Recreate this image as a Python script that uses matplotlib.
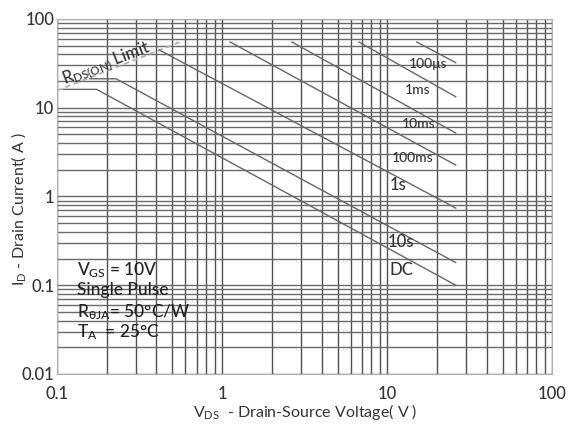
import matplotlib
matplotlib.use("Agg")
import matplotlib.pyplot as plt
from matplotlib.ticker import FixedLocator, LogLocator, NullFormatter

plt.rcParams["font.family"] = ["Lato", "DejaVu Sans"]
plt.rcParams["font.weight"] = "medium"
plt.rcParams["mathtext.default"] = "regular"

# safe operating area (V, A)
rds_v = [0.1, 0.556]
rds_i = [15.6, 55]

dc_v = [0.109, 0.174, 26]
dc_i = [16.1, 16.1, 0.1]
s10_v = [0.158, 0.228, 26]
s10_i = [21.2, 21.2, 0.18]
s1_v = [0.417, 26]
s1_i = [44.7, 0.74]
ms100_v = [1.12, 26]
ms100_i = [55, 2.26]
ms10_v = [2.65, 26]
ms10_i = [55, 5.19]
ms1_v = [6.75, 26]
ms1_i = [55, 13.3]
us100_v = [15.1, 26]
us100_i = [55, 32.2]

curve_names = ["100\u03bcs", "1ms", "10ms", "100ms", "1s", "10s", "DC"]
curve_sizes = [10, 10, 10, 10, 12, 12, 12]
# label anchors in axes fraction (left edge, vertical centre)
label_x = [0.711, 0.703, 0.697, 0.676, 0.672, 0.668, 0.672]
label_y = [0.873, 0.800, 0.704, 0.608, 0.532, 0.372, 0.293]

x_ticks = [0.1, 1, 10, 100]
x_tick_labels = ["0.1", "1", "10", "100"]
y_ticks = [0.01, 0.1, 1, 10, 100]
y_tick_labels = ["0.01", "0.1", "1", "10", "100"]

conditions = [
    "V$_{GS}$ = 10V",
    "Single Pulse",
    "R$_{\u03b8JA}$= 50\u00b0C/W",
    "T$_{A}$  = 25\u00b0C",
]
cond_y = [0.293, 0.237, 0.175, 0.118]

fig = plt.figure(figsize=(5.71, 4.26), dpi=100)
ax = fig.add_axes([0.0998, 0.1221, 0.8675, 0.8333])
ax.set_xscale("log")
ax.set_yscale("log")
ax.set_xlim(0.1, 100)
ax.set_ylim(0.01, 100)

# dense datasheet grid
ax.xaxis.set_minor_locator(LogLocator(base=10, subs=range(2, 10)))
ax.yaxis.set_minor_locator(LogLocator(base=10, subs=range(2, 10)))
ax.xaxis.set_minor_formatter(NullFormatter())
ax.yaxis.set_minor_formatter(NullFormatter())
ax.grid(True, which="both", axis="x", color="#505050", lw=1.0)
ax.grid(True, which="both", axis="y", color="#6a6a6a", lw=1.0)
ax.set_axisbelow(True)

line_kw = dict(color="#666666", lw=1.0)
ax.plot(rds_v, rds_i, color="#b0b0b0", lw=1.3, dashes=(3, 2))
for v, i in [(dc_v, dc_i), (s10_v, s10_i), (s1_v, s1_i), (ms100_v, ms100_i),
             (ms10_v, ms10_i), (ms1_v, ms1_i), (us100_v, us100_i)]:
    ax.plot(v, i, **line_kw)

for name, size, lx, ly in zip(curve_names, curve_sizes, label_x, label_y):
    ax.text(lx, ly, name, transform=ax.transAxes, fontsize=size,
            ha="left", va="center", color="#333333")

ax.text(0.100, 0.872, "R$_{DS(ON)}$ Limit", transform=ax.transAxes, fontsize=12,
        rotation=21, ha="center", va="center", color="#333333")

for txt, cy in zip(conditions, cond_y):
    ax.text(0.040, cy, txt, transform=ax.transAxes, fontsize=12.5,
            ha="left", va="center", color="#222222")

ax.xaxis.set_major_locator(FixedLocator(x_ticks))
ax.set_xticklabels(x_tick_labels)
ax.yaxis.set_major_locator(FixedLocator(y_ticks))
ax.set_yticklabels(y_tick_labels)
ax.tick_params(which="both", length=0)
ax.tick_params(axis="x", pad=9, labelsize=12, labelcolor="#333333")
ax.tick_params(axis="y", pad=2, labelsize=12, labelcolor="#333333")

for sp in ax.spines.values():
    sp.set_color("#b0b0b0")

ax.set_xlabel("V$_{DS}$  - Drain-Source Voltage( V )", fontsize=11.5,
              color="#333333", va="center")
ax.xaxis.set_label_coords(0.502, -0.106)
ax.set_ylabel("I$_{D}$ - Drain Current( A )", fontsize=11.5,
              color="#333333", va="center")
ax.yaxis.set_label_coords(-0.078, 0.465)

fig.savefig("out.png", dpi=100)
